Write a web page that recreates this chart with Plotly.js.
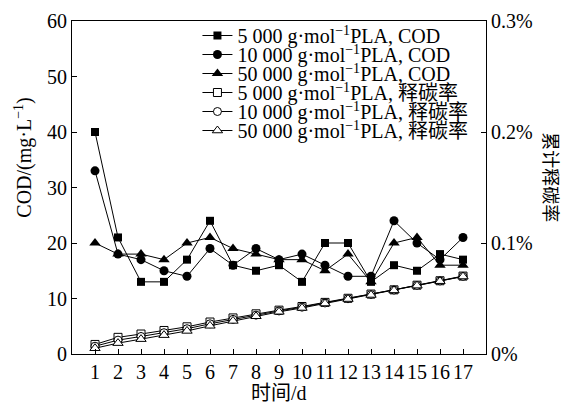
<!DOCTYPE html>
<html>
<head>
<meta charset="utf-8">
<script src="https://cdn.plot.ly/plotly-3.0.1.min.js"></script>
<style>
  html, body { margin: 0; padding: 0; background: #fff; }
  #chart { width: 568px; height: 407px; }
</style>
</head>
<body>
<div id="chart"></div>
<script>
// Sampling days
const days = [1, 2, 3, 4, 5, 6, 7, 8, 9, 10, 11, 12, 13, 14, 15, 16, 17];

// COD (mg/L) for three PLA molecular weights
const cod5000  = [40, 21, 13, 13, 17, 24, 16, 15, 16, 13, 20, 20, 13, 16, 15, 18, 17];
const cod10000 = [33, 18, 17, 15, 14, 19, 16, 19, 17, 18, 16, 14, 14, 24, 20, 17, 21];
const cod50000 = [20, 18, 18, 17, 20, 21, 19, 18, 17, 17, 15, 18, 13, 20, 21, 16, 16];

// Cumulative carbon release rate (%)
const rel5000  = [0.0086, 0.0150, 0.0180, 0.0212, 0.0245, 0.0288, 0.0325, 0.0362, 0.0395,
                  0.0428, 0.0465, 0.0502, 0.0540, 0.0578, 0.0620, 0.0660, 0.0702];
const rel10000 = [0.0070, 0.0125, 0.0158, 0.0192, 0.0228, 0.0272, 0.0312, 0.0350, 0.0388,
                  0.0422, 0.0460, 0.0498, 0.0536, 0.0576, 0.0618, 0.0658, 0.0700];
const rel50000 = [0.0052, 0.0098, 0.0134, 0.0170, 0.0208, 0.0254, 0.0298, 0.0340, 0.0380,
                  0.0415, 0.0455, 0.0495, 0.0532, 0.0573, 0.0616, 0.0656, 0.0698];

const seriesNames = [
  '5 000 g·mol<sup>−1</sup>PLA, COD',
  '10 000 g·mol<sup>−1</sup>PLA, COD',
  '50 000 g·mol<sup>−1</sup>PLA, COD',
  '5 000 g·mol<sup>−1</sup>PLA, 释碳率',
  '10 000 g·mol<sup>−1</sup>PLA, 释碳率',
  '50 000 g·mol<sup>−1</sup>PLA, 释碳率'
];
const rightTicks = [0, 0.1, 0.2, 0.3];
const rightTickText = ['0%', '0.1%', '0.2%', '0.3%'];

const FONT = 'Liberation Serif, Noto Sans CJK SC, serif';
const CJK = 'Noto Sans CJK SC, sans-serif';
const lineStyle = { color: '#000', width: 1 };

function filled(y, name, symbol, size) {
  return {
    x: days, y: y, name: name, type: 'scatter', mode: 'lines+markers',
    line: lineStyle,
    marker: { symbol: symbol, size: size, color: '#000' },
    yaxis: 'y'
  };
}
function hollow(y, name, symbol, size) {
  return {
    x: days, y: y, name: name, type: 'scatter', mode: 'lines+markers',
    line: lineStyle,
    marker: { symbol: symbol, size: size, color: '#fff', line: { color: '#000', width: 1 } },
    yaxis: 'y2'
  };
}

const traces = [
  filled(cod5000,  seriesNames[0], 'square', 8),
  filled(cod10000, seriesNames[1], 'circle', 9),
  filled(cod50000, seriesNames[2], 'triangle-up', 10),
  hollow(rel5000,  seriesNames[3], 'square', 8),
  hollow(rel10000, seriesNames[4], 'circle', 8),
  hollow(rel50000, seriesNames[5], 'triangle-up', 9)
];

const layout = {
  width: 568, height: 407,
  margin: { l: 72, r: 82, t: 21, b: 53 },
  paper_bgcolor: '#fff', plot_bgcolor: '#fff',
  font: { family: FONT, size: 20, color: '#000' },
  showlegend: true,
  legend: {
    x: 0.303, xanchor: 'left', y: 1.015, yanchor: 'top',
    bgcolor: 'rgba(0,0,0,0)', borderwidth: 0,
    font: { family: FONT, size: 20, color: '#000' },
    itemwidth: 30, tracegroupgap: 0
  },
  xaxis: {
    range: [0, 18], tickvals: days, ticktext: days.map(String),
    ticks: 'inside', ticklen: 5, tickcolor: '#000',
    showline: true, linecolor: '#000', linewidth: 1, mirror: true,
    showgrid: false, zeroline: false,
    tickfont: { family: FONT, size: 20 }
  },
  yaxis: {
    range: [0, 60], dtick: 10,
    ticks: 'inside', ticklen: 5, tickcolor: '#000',
    showline: true, linecolor: '#000', linewidth: 1,
    showgrid: false, zeroline: false,
    tickfont: { family: FONT, size: 20 }
  },
  yaxis2: {
    overlaying: 'y', side: 'right',
    range: [0, 0.3], tickvals: rightTicks, ticktext: rightTickText,
    ticks: 'inside', ticklen: 5, tickcolor: '#000',
    showline: true, linecolor: '#000', linewidth: 1,
    showgrid: false, zeroline: false,
    tickfont: { family: FONT, size: 20 }
  },
  annotations: [
    {
      text: 'COD/(mg·L<sup>−1</sup>)', xref: 'paper', yref: 'paper',
      x: -0.118, y: 0.59, xanchor: 'center', yanchor: 'middle',
      textangle: -90, showarrow: false,
      font: { family: FONT, size: 20, color: '#000' }
    },
    {
      text: '时间/d', xref: 'paper', yref: 'paper',
      x: 0.5, y: -0.118, xanchor: 'center', yanchor: 'middle',
      showarrow: false,
      font: { family: FONT, size: 20, color: '#000' }
    },
    {
      text: '累计释碳率', xref: 'paper', yref: 'paper',
      x: 1.16, y: 0.53, xanchor: 'center', yanchor: 'middle',
      textangle: 90, showarrow: false,
      font: { family: CJK, size: 18, color: '#000' }
    }
  ]
};

const gd = document.getElementById('chart');
Plotly.newPlot(gd, traces, layout, { staticPlot: true, displayModeBar: false }).then(function () {
  // Tighten the legend rows to a fixed pitch
  const rows = gd.querySelectorAll('.legend .traces');
  const ROW = 19;
  let x0 = 0, y0 = null;
  rows.forEach(function (g, i) {
    const m = /translate\(\s*([-\d.]+)[ ,]+([-\d.]+)\s*\)/.exec(g.getAttribute('transform') || '');
    if (!m) return;
    if (y0 === null) { x0 = parseFloat(m[1]); y0 = parseFloat(m[2]); }
    g.setAttribute('transform', 'translate(' + x0 + ',' + (y0 + i * ROW) + ')');
  });
});
</script>
</body>
</html>
